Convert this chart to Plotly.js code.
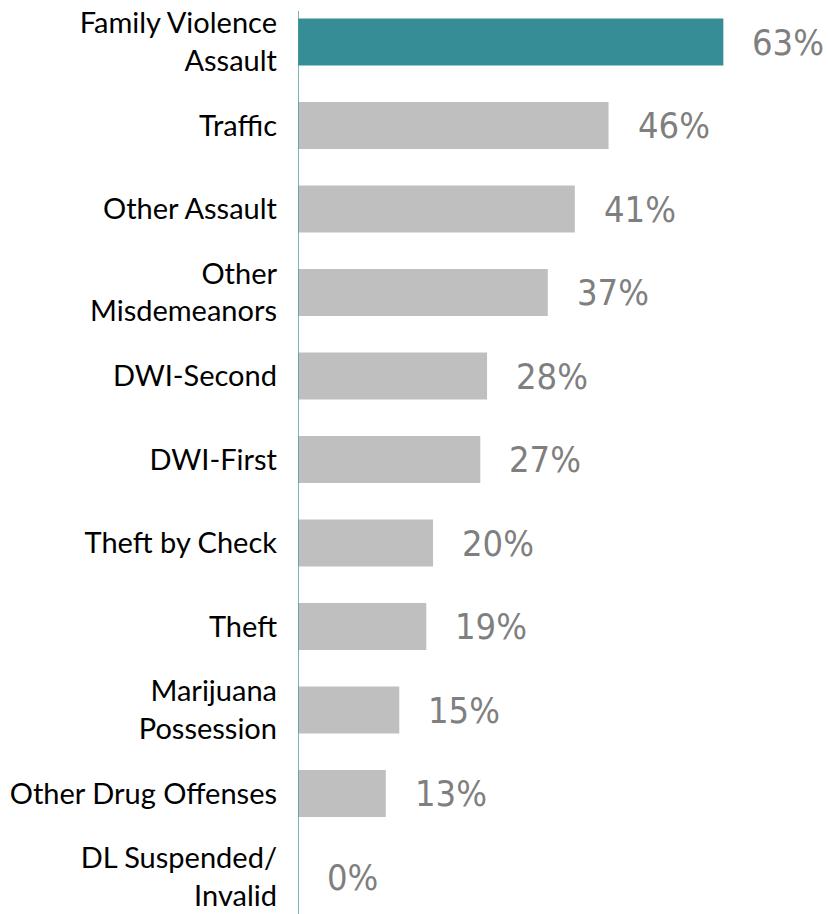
<!DOCTYPE html>
<html>
<head>
<meta charset="utf-8">
<script src="https://cdn.plot.ly/plotly-3.0.1.min.js"></script>
<style>html,body{margin:0;padding:0;background:#fff;}#chart{width:828px;height:914px;}</style>
</head>
<body>
<div id="chart"></div>
<script>
const categories = [
  "Family Violence<br>Assault",
  "Traffic",
  "Other Assault",
  "Other<br>Misdemeanors",
  "DWI-Second",
  "DWI-First",
  "Theft by Check",
  "Theft",
  "Marijuana<br>Possession",
  "Other Drug Offenses",
  "DL Suspended/<br>Invalid"
];
const values = [63, 46, 41, 37, 28, 27, 20, 19, 15, 13, 0];
const highlighted = "Family Violence<br>Assault";

const teal = "#378D96";
const gray = "#BFBFBF";
const barColors = categories.map(c => c === highlighted ? teal : gray);

const trace = {
  type: "bar",
  orientation: "h",
  x: values,
  y: categories,
  marker: {color: barColors},
  hoverinfo: "none"
};

const annotations = categories.map((c, i) => ({
  x: values[i],
  y: c,
  xref: "x",
  yref: "y",
  text: values[i] + "%",
  showarrow: false,
  xanchor: "left",
  yanchor: "middle",
  xshift: 27,
  font: {family: "DejaVu Sans Condensed, DejaVu Sans", size: 36, color: "#7F7F7F"}
}));

const layout = {
  width: 828,
  height: 914,
  margin: {l: 298, r: 0, t: 0, b: 0},
  paper_bgcolor: "#ffffff",
  plot_bgcolor: "#ffffff",
  showlegend: false,
  bargap: 0.437,
  xaxis: {
    range: [0, 78.5],
    visible: false,
    showgrid: false,
    zeroline: false
  },
  yaxis: {
    type: "category",
    range: [10.443, -0.503],
    showgrid: false,
    zeroline: false,
    showline: false,
    ticks: "",
    ticklabelstandoff: 20,
    tickfont: {family: "Lato", size: 29, color: "#000000"}
  },
  shapes: [{
    type: "line",
    xref: "x",
    yref: "paper",
    x0: 0, x1: 0,
    y0: 0, y1: 0.988,
    line: {color: "#4A9CA3", width: 1.5}
  }],
  annotations: annotations
};

Plotly.newPlot("chart", [trace], layout, {displayModeBar: false, staticPlot: true});
</script>
</body>
</html>
